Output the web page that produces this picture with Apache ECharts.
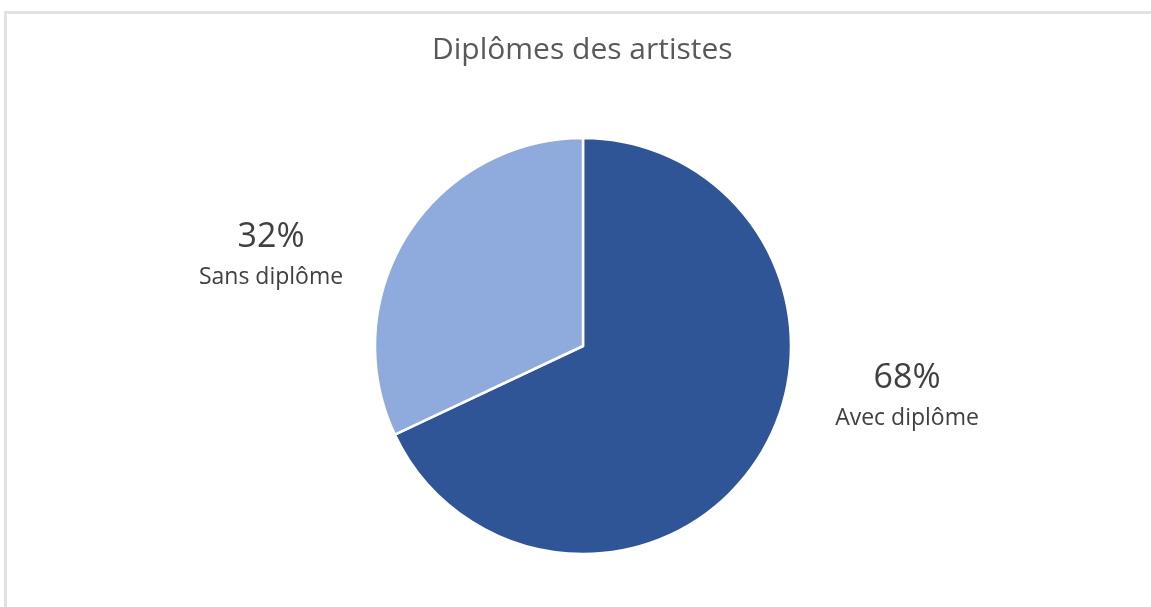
<!DOCTYPE html>
<html>
<head>
<meta charset="utf-8">
<script src="https://cdn.jsdelivr.net/npm/echarts@6/dist/echarts.min.js"></script>
<style>
  html, body { margin: 0; padding: 0; background: #fff; }
  #chart { width: 1151px; height: 607px; }
</style>
</head>
<body>
<div id="chart"></div>
<script>
// données du graphique
var categories = ['Avec diplôme', 'Sans diplôme'];
var values = [68, 32];
var colors = ['#2F5597', '#8FAADC'];

var chart = echarts.init(document.getElementById('chart'));

var pieData = categories.map(function(name, i) {
  return { name: name, value: values[i], itemStyle: { color: colors[i] } };
});

// positions des étiquettes (à la manière d'Excel)
var labelPos = [
  { x: 907, y: 398 },
  { x: 271, y: 257 }
];

var option = {
  animation: false,
  backgroundColor: '#fff',
  graphic: [{
    type: 'rect',
    shape: { x: 5.5, y: 12.5, width: 1300, height: 700 },
    style: { fill: 'none', stroke: '#e2e2e2', lineWidth: 3 },
    silent: true
  }],
  title: {
    text: 'Diplômes des artistes',
    left: 427,
    top: 30,
    textStyle: {
      fontFamily: 'Open Sans',
      fontSize: 30,
      fontWeight: 'normal',
      color: '#595959'
    }
  },
  series: [{
    type: 'pie',
    center: [583, 346],
    radius: 208,
    startAngle: 90,
    clockwise: true,
    data: pieData,
    itemStyle: { borderColor: '#fff', borderWidth: 2.5 },
    emphasis: { disabled: true },
    labelLine: { show: false },
    label: {
      show: true,
      position: 'outside',
      formatter: function(p) {
        return '{p|' + p.value + '%}\n{n|' + p.name + '}';
      },
      rich: {
        p: { fontFamily: 'Open Sans', fontSize: 34, lineHeight: 40, color: '#404040', align: 'center' },
        n: { fontFamily: 'Open Sans', fontSize: 23, lineHeight: 40, color: '#404040', align: 'center' }
      }
    },
    labelLayout: function(params) {
      var pos = labelPos[params.dataIndex];
      return { x: pos.x, y: pos.y, align: 'center', verticalAlign: 'middle' };
    }
  }]
};

chart.setOption(option);
</script>
</body>
</html>
